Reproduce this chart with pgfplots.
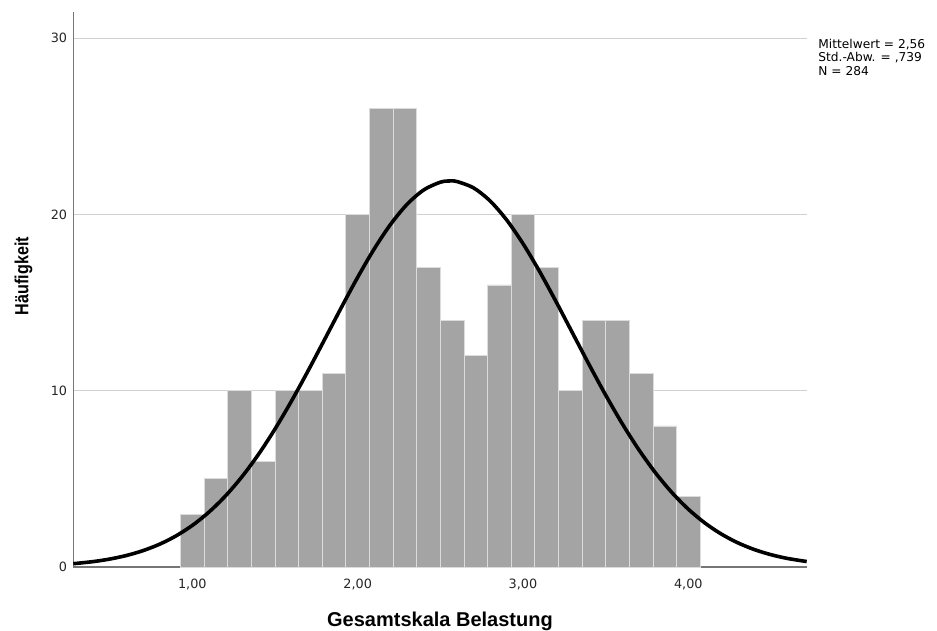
\documentclass[border=0pt]{standalone}
\usepackage{fontspec}
\setmainfont{DejaVu Sans}
\newfontfamily\xlabfont{Liberation Sans}
\newfontfamily\ylabfont[FakeStretch=0.85]{Liberation Sans}
\usepackage{pgfplots}
\pgfplotsset{compat=1.18}
\definecolor{barfill}{HTML}{A4A4A4}
\definecolor{baredge}{HTML}{DCDCDC}
\definecolor{gridc}{HTML}{D0D0D0}
\definecolor{axc}{HTML}{767676}
\begin{document}
\begin{tikzpicture}
\begin{axis}[
  scale only axis, width=733.4pt, height=555.3pt,
  xmin=0.280, xmax=4.716, ymin=0, ymax=31.5,
  axis x line=bottom, axis y line=left,
  axis line style={-, draw=axc, line width=1.1pt},
  xtick={1,2,3,4}, xticklabels={{1,00},{2,00},{3,00},{4,00}},
  ytick={0,10,20,30},
  major tick length=0pt,
  ymajorgrids, grid style={draw=gridc, line width=1pt},
  /pgf/number format/assume math mode=true,
  tick label style={font=\fontsize{12.8}{15}\selectfont, text=black!85},
  xticklabel style={anchor=north, inner sep=0pt, yshift=-11.5pt},
  yticklabel style={anchor=east, inner sep=0pt, xshift=-6pt},
  xlabel={Gesamtskala Belastung},
  ylabel={Häufigkeit},
  xlabel style={at={(rel axis cs:0.5,0)}, anchor=base, yshift=-59pt, inner sep=0pt,
    font=\xlabfont\bfseries\fontsize{20}{24}\selectfont},
  ylabel style={at={([xshift=-45pt]rel axis cs:0,0.524)}, anchor=base, rotate=0, inner sep=0pt,
    font=\ylabfont\bfseries\fontsize{19}{23}\selectfont},
  clip=false,
]
\addplot[ybar, bar width=0.142857, fill=barfill, draw=baredge, line width=0.8pt] coordinates {
  (1.000000,3) (1.142857,5) (1.285714,10) (1.428571,6) (1.571429,10) (1.714286,10)
  (1.857143,11) (2.000000,20) (2.142857,26) (2.285714,26) (2.428571,17) (2.571429,14)
  (2.714286,12) (2.857143,16) (3.000000,20) (3.142857,17) (3.285714,10) (3.428571,14)
  (3.571429,14) (3.714286,11) (3.857143,8) (4.000000,4)
};
\addplot[smooth, black, line width=3.6pt] coordinates {
  (0.28,0.188) (0.4,0.306) (0.5,0.450) (0.6,0.650) (0.7,0.923) (0.8,1.285)
  (0.9,1.757) (1.0,2.359) (1.1,3.111) (1.2,4.028) (1.3,5.119) (1.4,6.389)
  (1.5,7.828) (1.6,9.419) (1.7,11.127) (1.8,12.906) (1.9,14.697) (2.0,16.434)
  (2.1,18.043) (2.2,19.450) (2.3,20.586) (2.4,21.393) (2.5,21.828) (2.56,21.900)
  (2.6,21.868) (2.7,21.511) (2.8,20.775) (2.9,19.701) (3.0,18.343) (3.1,16.769)
  (3.2,15.051) (3.3,13.265) (3.4,11.479) (3.5,9.753) (3.6,8.135) (3.7,6.664)
  (3.8,5.359) (3.9,4.231) (4.0,3.280) (4.1,2.497) (4.2,1.867) (4.3,1.370)
  (4.4,0.987) (4.5,0.698) (4.6,0.485) (4.716,0.311)
};
\coordinate (O) at (rel axis cs:0,0);
\node[anchor=north west, align=left, inner sep=0pt,
      font=\fontsize{12.2}{13.6}\selectfont]
  at ([xshift=11.5pt, yshift=-27pt]rel axis cs:1,1)
  {Mittelwert = 2,56\\Std.-Abw. = ,739\\N = 284};
\end{axis}
\pgfresetboundingbox
\path ([shift={(-73.3pt,-63pt)}]O) rectangle ++(937pt,630pt);
\end{tikzpicture}
\end{document}
